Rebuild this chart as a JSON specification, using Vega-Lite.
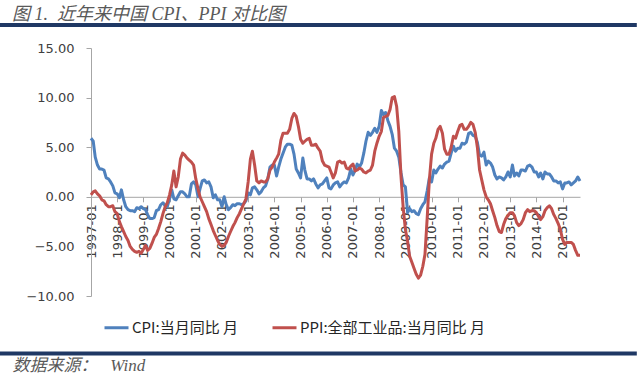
{
  "$schema": "https://vega.github.io/schema/vega-lite/v6.json",
  "autosize": "none",
  "width": 489,
  "height": 248,
  "padding": {"left": 91, "top": 48, "right": 60, "bottom": 79},
  "background": "#ffffff",
  "config": {"view": {"stroke": null}},
  "title": {
    "text": "图 1.\u00a0\u00a0近年来中国 CPI、PPI 对比图",
    "anchor": "start",
    "frame": "group",
    "dx": -79,
    "offset": 22,
    "dy": 23,
    "font": "Liberation Serif, Noto Sans CJK SC",
    "fontStyle": "italic",
    "fontWeight": "normal",
    "fontSize": 18,
    "color": "#595959"
  },
  "data": {
    "values": [
      {"date":"1997-01","cpi":5.9,"ppi":0.2},{"date":"1997-02","cpi":5.6,"ppi":0.5},{"date":"1997-03","cpi":4.0,"ppi":0.6},{"date":"1997-04","cpi":3.2,"ppi":0.3},{"date":"1997-05","cpi":2.8,"ppi":0.1},{"date":"1997-06","cpi":2.8,"ppi":-0.3},{"date":"1997-07","cpi":2.7,"ppi":-0.4},{"date":"1997-08","cpi":1.9,"ppi":-0.8},{"date":"1997-09","cpi":1.8,"ppi":-1.0},{"date":"1997-10","cpi":1.5,"ppi":-1.0},{"date":"1997-11","cpi":1.1,"ppi":-0.9},{"date":"1997-12","cpi":0.4,"ppi":-1.5},
      {"date":"1998-01","cpi":0.3,"ppi":-1.7},{"date":"1998-02","cpi":-0.1,"ppi":-2.5},{"date":"1998-03","cpi":0.7,"ppi":-3.0},{"date":"1998-04","cpi":-0.3,"ppi":-3.5},{"date":"1998-05","cpi":-1.0,"ppi":-4.0},{"date":"1998-06","cpi":-1.3,"ppi":-4.4},{"date":"1998-07","cpi":-1.4,"ppi":-5.0},{"date":"1998-08","cpi":-1.4,"ppi":-5.3},{"date":"1998-09","cpi":-1.5,"ppi":-5.5},{"date":"1998-10","cpi":-1.1,"ppi":-5.6},{"date":"1998-11","cpi":-1.2,"ppi":-5.5},{"date":"1998-12","cpi":-1.0,"ppi":-5.7},
      {"date":"1999-01","cpi":-1.2,"ppi":-5.3},{"date":"1999-02","cpi":-1.3,"ppi":-4.9},{"date":"1999-03","cpi":-1.8,"ppi":-5.4},{"date":"1999-04","cpi":-2.2,"ppi":-5.2},{"date":"1999-05","cpi":-2.2,"ppi":-4.7},{"date":"1999-06","cpi":-2.1,"ppi":-4.1},{"date":"1999-07","cpi":-1.4,"ppi":-3.8},{"date":"1999-08","cpi":-1.3,"ppi":-3.2},{"date":"1999-09","cpi":-0.8,"ppi":-2.5},{"date":"1999-10","cpi":-0.6,"ppi":-1.7},{"date":"1999-11","cpi":-0.9,"ppi":-1.0},{"date":"1999-12","cpi":-1.0,"ppi":-0.6},
      {"date":"2000-01","cpi":-0.2,"ppi":0.2},{"date":"2000-02","cpi":0.7,"ppi":1.2},{"date":"2000-03","cpi":-0.2,"ppi":2.6},{"date":"2000-04","cpi":-0.3,"ppi":1.0},{"date":"2000-05","cpi":0.1,"ppi":2.0},{"date":"2000-06","cpi":0.5,"ppi":3.8},{"date":"2000-07","cpi":0.5,"ppi":4.4},{"date":"2000-08","cpi":0.3,"ppi":4.2},{"date":"2000-09","cpi":0.0,"ppi":3.9},{"date":"2000-10","cpi":0.0,"ppi":3.7},{"date":"2000-11","cpi":1.3,"ppi":3.5},{"date":"2000-12","cpi":1.5,"ppi":3.2},
      {"date":"2001-01","cpi":1.2,"ppi":1.8},{"date":"2001-02","cpi":0.0,"ppi":0.8},{"date":"2001-03","cpi":0.8,"ppi":0.0},{"date":"2001-04","cpi":1.6,"ppi":-0.5},{"date":"2001-05","cpi":1.7,"ppi":-1.0},{"date":"2001-06","cpi":1.4,"ppi":-1.5},{"date":"2001-07","cpi":1.5,"ppi":-2.2},{"date":"2001-08","cpi":1.0,"ppi":-2.8},{"date":"2001-09","cpi":-0.1,"ppi":-3.4},{"date":"2001-10","cpi":0.2,"ppi":-3.9},{"date":"2001-11","cpi":-0.3,"ppi":-4.4},{"date":"2001-12","cpi":-0.3,"ppi":-4.8},
      {"date":"2002-01","cpi":-1.0,"ppi":-5.0},{"date":"2002-02","cpi":0.0,"ppi":-4.9},{"date":"2002-03","cpi":-0.8,"ppi":-4.6},{"date":"2002-04","cpi":-1.3,"ppi":-4.0},{"date":"2002-05","cpi":-1.1,"ppi":-3.5},{"date":"2002-06","cpi":-0.8,"ppi":-3.0},{"date":"2002-07","cpi":-0.9,"ppi":-2.6},{"date":"2002-08","cpi":-0.7,"ppi":-2.1},{"date":"2002-09","cpi":-0.7,"ppi":-1.7},{"date":"2002-10","cpi":-0.8,"ppi":-1.2},{"date":"2002-11","cpi":-0.7,"ppi":-0.7},{"date":"2002-12","cpi":-0.4,"ppi":-0.2},
      {"date":"2003-01","cpi":0.4,"ppi":1.5},{"date":"2003-02","cpi":0.2,"ppi":3.8},{"date":"2003-03","cpi":0.9,"ppi":4.6},{"date":"2003-04","cpi":1.0,"ppi":3.2},{"date":"2003-05","cpi":0.7,"ppi":1.6},{"date":"2003-06","cpi":0.3,"ppi":1.4},{"date":"2003-07","cpi":0.5,"ppi":1.6},{"date":"2003-08","cpi":0.9,"ppi":1.5},{"date":"2003-09","cpi":1.1,"ppi":1.5},{"date":"2003-10","cpi":1.8,"ppi":1.8},{"date":"2003-11","cpi":3.0,"ppi":2.7},{"date":"2003-12","cpi":3.2,"ppi":3.0},
      {"date":"2004-01","cpi":3.2,"ppi":3.5},{"date":"2004-02","cpi":2.1,"ppi":3.9},{"date":"2004-03","cpi":3.0,"ppi":4.3},{"date":"2004-04","cpi":3.8,"ppi":5.7},{"date":"2004-05","cpi":4.4,"ppi":6.4},{"date":"2004-06","cpi":5.0,"ppi":6.4},{"date":"2004-07","cpi":5.3,"ppi":6.4},{"date":"2004-08","cpi":5.3,"ppi":6.8},{"date":"2004-09","cpi":5.2,"ppi":7.9},{"date":"2004-10","cpi":4.3,"ppi":8.4},{"date":"2004-11","cpi":2.8,"ppi":8.1},{"date":"2004-12","cpi":2.4,"ppi":7.1},
      {"date":"2005-01","cpi":1.9,"ppi":5.8},{"date":"2005-02","cpi":3.9,"ppi":5.4},{"date":"2005-03","cpi":2.7,"ppi":5.6},{"date":"2005-04","cpi":1.8,"ppi":5.8},{"date":"2005-05","cpi":1.8,"ppi":5.9},{"date":"2005-06","cpi":1.6,"ppi":5.2},{"date":"2005-07","cpi":1.8,"ppi":5.2},{"date":"2005-08","cpi":1.3,"ppi":5.3},{"date":"2005-09","cpi":0.9,"ppi":4.9},{"date":"2005-10","cpi":1.2,"ppi":4.6},{"date":"2005-11","cpi":1.3,"ppi":3.6},{"date":"2005-12","cpi":1.6,"ppi":3.2},
      {"date":"2006-01","cpi":1.9,"ppi":3.1},{"date":"2006-02","cpi":0.9,"ppi":3.0},{"date":"2006-03","cpi":0.8,"ppi":2.5},{"date":"2006-04","cpi":1.2,"ppi":1.9},{"date":"2006-05","cpi":1.4,"ppi":2.4},{"date":"2006-06","cpi":1.5,"ppi":3.5},{"date":"2006-07","cpi":1.0,"ppi":3.6},{"date":"2006-08","cpi":1.3,"ppi":3.4},{"date":"2006-09","cpi":1.5,"ppi":3.5},{"date":"2006-10","cpi":1.4,"ppi":2.9},{"date":"2006-11","cpi":1.9,"ppi":2.8},{"date":"2006-12","cpi":2.8,"ppi":3.1},
      {"date":"2007-01","cpi":2.2,"ppi":3.3},{"date":"2007-02","cpi":2.7,"ppi":2.6},{"date":"2007-03","cpi":3.3,"ppi":2.7},{"date":"2007-04","cpi":3.0,"ppi":2.9},{"date":"2007-05","cpi":3.4,"ppi":2.8},{"date":"2007-06","cpi":4.4,"ppi":2.5},{"date":"2007-07","cpi":5.6,"ppi":2.4},{"date":"2007-08","cpi":6.5,"ppi":2.6},{"date":"2007-09","cpi":6.2,"ppi":2.7},{"date":"2007-10","cpi":6.5,"ppi":3.2},{"date":"2007-11","cpi":6.9,"ppi":4.6},{"date":"2007-12","cpi":6.5,"ppi":5.4},
      {"date":"2008-01","cpi":7.1,"ppi":6.1},{"date":"2008-02","cpi":8.7,"ppi":6.6},{"date":"2008-03","cpi":8.3,"ppi":8.0},{"date":"2008-04","cpi":8.5,"ppi":8.1},{"date":"2008-05","cpi":7.7,"ppi":8.2},{"date":"2008-06","cpi":7.1,"ppi":8.8},{"date":"2008-07","cpi":6.3,"ppi":10.0},{"date":"2008-08","cpi":4.9,"ppi":10.1},{"date":"2008-09","cpi":4.6,"ppi":9.1},{"date":"2008-10","cpi":4.0,"ppi":6.6},{"date":"2008-11","cpi":2.4,"ppi":2.0},{"date":"2008-12","cpi":1.2,"ppi":-1.1},
      {"date":"2009-01","cpi":1.0,"ppi":-3.3},{"date":"2009-02","cpi":-1.6,"ppi":-4.5},{"date":"2009-03","cpi":-1.2,"ppi":-6.0},{"date":"2009-04","cpi":-1.5,"ppi":-6.6},{"date":"2009-05","cpi":-1.4,"ppi":-7.2},{"date":"2009-06","cpi":-1.7,"ppi":-7.8},{"date":"2009-07","cpi":-1.8,"ppi":-8.2},{"date":"2009-08","cpi":-1.2,"ppi":-7.9},{"date":"2009-09","cpi":-0.8,"ppi":-7.0},{"date":"2009-10","cpi":-0.5,"ppi":-5.8},{"date":"2009-11","cpi":0.6,"ppi":-2.1},{"date":"2009-12","cpi":1.9,"ppi":1.7},
      {"date":"2010-01","cpi":1.5,"ppi":4.3},{"date":"2010-02","cpi":2.7,"ppi":5.4},{"date":"2010-03","cpi":2.4,"ppi":5.9},{"date":"2010-04","cpi":2.8,"ppi":6.8},{"date":"2010-05","cpi":3.1,"ppi":7.1},{"date":"2010-06","cpi":2.9,"ppi":6.4},{"date":"2010-07","cpi":3.3,"ppi":4.8},{"date":"2010-08","cpi":3.5,"ppi":4.3},{"date":"2010-09","cpi":3.6,"ppi":4.3},{"date":"2010-10","cpi":4.4,"ppi":5.0},{"date":"2010-11","cpi":5.1,"ppi":6.1},{"date":"2010-12","cpi":4.6,"ppi":5.9},
      {"date":"2011-01","cpi":4.9,"ppi":6.6},{"date":"2011-02","cpi":4.9,"ppi":7.2},{"date":"2011-03","cpi":5.4,"ppi":7.3},{"date":"2011-04","cpi":5.3,"ppi":6.8},{"date":"2011-05","cpi":5.5,"ppi":6.8},{"date":"2011-06","cpi":6.4,"ppi":7.1},{"date":"2011-07","cpi":6.5,"ppi":7.5},{"date":"2011-08","cpi":6.2,"ppi":7.3},{"date":"2011-09","cpi":6.1,"ppi":6.5},{"date":"2011-10","cpi":5.5,"ppi":5.0},{"date":"2011-11","cpi":4.2,"ppi":2.7},{"date":"2011-12","cpi":4.1,"ppi":1.7},
      {"date":"2012-01","cpi":4.5,"ppi":0.7},{"date":"2012-02","cpi":3.2,"ppi":0.0},{"date":"2012-03","cpi":3.6,"ppi":-0.3},{"date":"2012-04","cpi":3.4,"ppi":-0.7},{"date":"2012-05","cpi":3.0,"ppi":-1.4},{"date":"2012-06","cpi":2.2,"ppi":-2.1},{"date":"2012-07","cpi":1.8,"ppi":-2.9},{"date":"2012-08","cpi":2.0,"ppi":-3.5},{"date":"2012-09","cpi":1.9,"ppi":-3.6},{"date":"2012-10","cpi":1.7,"ppi":-2.8},{"date":"2012-11","cpi":2.0,"ppi":-2.2},{"date":"2012-12","cpi":2.5,"ppi":-1.9},
      {"date":"2013-01","cpi":2.0,"ppi":-1.6},{"date":"2013-02","cpi":3.2,"ppi":-1.6},{"date":"2013-03","cpi":2.1,"ppi":-1.9},{"date":"2013-04","cpi":2.4,"ppi":-2.6},{"date":"2013-05","cpi":2.1,"ppi":-2.9},{"date":"2013-06","cpi":2.7,"ppi":-2.7},{"date":"2013-07","cpi":2.7,"ppi":-2.3},{"date":"2013-08","cpi":2.6,"ppi":-1.6},{"date":"2013-09","cpi":3.1,"ppi":-1.3},{"date":"2013-10","cpi":3.2,"ppi":-1.5},{"date":"2013-11","cpi":3.0,"ppi":-1.4},{"date":"2013-12","cpi":2.5,"ppi":-1.4},
      {"date":"2014-01","cpi":2.5,"ppi":-1.6},{"date":"2014-02","cpi":2.0,"ppi":-2.0},{"date":"2014-03","cpi":2.4,"ppi":-2.3},{"date":"2014-04","cpi":1.8,"ppi":-2.0},{"date":"2014-05","cpi":2.5,"ppi":-1.4},{"date":"2014-06","cpi":2.3,"ppi":-1.1},{"date":"2014-07","cpi":2.3,"ppi":-0.9},{"date":"2014-08","cpi":2.0,"ppi":-1.2},{"date":"2014-09","cpi":1.6,"ppi":-1.8},{"date":"2014-10","cpi":1.6,"ppi":-2.2},{"date":"2014-11","cpi":1.4,"ppi":-2.7},{"date":"2014-12","cpi":1.5,"ppi":-3.3},
      {"date":"2015-01","cpi":0.8,"ppi":-4.3},{"date":"2015-02","cpi":1.4,"ppi":-4.8},{"date":"2015-03","cpi":1.4,"ppi":-4.6},{"date":"2015-04","cpi":1.5,"ppi":-4.6},{"date":"2015-05","cpi":1.2,"ppi":-4.6},{"date":"2015-06","cpi":1.4,"ppi":-4.8},{"date":"2015-07","cpi":1.6,"ppi":-5.4},{"date":"2015-08","cpi":2.0,"ppi":-5.9},{"date":"2015-09","cpi":1.6,"ppi":-5.9}
    ],
    "format": {"parse": {"date": "utc:'%Y-%m'"}}
  },
  "layer": [
    {
      "mark": {"type": "line", "strokeWidth": 3, "strokeJoin": "round"},
      "encoding": {
        "x": {
          "field": "date", "type": "temporal",
          "scale": {"type": "utc", "domain": [{"year": 1997, "month": 1, "date": 1, "utc": true}, {"year": 2015, "month": 9, "date": 1, "utc": true}], "nice": false},
          "axis": {
            "offset": -99.2,
            "format": "%Y-%m",
            "tickCount": {"interval": "year", "step": 1},
            "labelAngle": 270,
            "labelAlign": "right",
            "labelBaseline": "middle",
            "labelPadding": 2,
            "labelFont": "DejaVu Sans",
            "labelFontSize": 13,
            "labelColor": "#404040",
            "labelFlush": false,
            "labelOverlap": false,
            "domainColor": "#A6A6A6",
            "tickColor": "#A6A6A6",
            "tickSize": 5,
            "grid": false,
            "title": "数据来源：\u00a0\u00a0\u00a0Wind",
            "titleX": -79,
            "titleY": 174,
            "titleAlign": "left",
            "titleBaseline": "alphabetic",
            "titleAngle": 0,
            "titleFont": "Liberation Serif, Noto Sans CJK SC",
            "titleFontStyle": "italic",
            "titleFontWeight": "normal",
            "titleFontSize": 17,
            "titleColor": "#595959"
          }
        },
        "y": {
          "field": "cpi", "type": "quantitative",
          "scale": {"domain": [-10, 15], "nice": false, "zero": false},
          "axis": {
            "values": [-10, -5, 0, 5, 10, 15],
            "format": ".2f",
            "labelFont": "DejaVu Sans",
            "labelFontSize": 13,
            "labelColor": "#404040",
            "labelPadding": 12,
            "domainColor": "#A6A6A6",
            "tickColor": "#A6A6A6",
            "tickSize": 5,
            "grid": false,
            "title": null
          }
        },
        "color": {
          "datum": "CPI:当月同比 月",
          "type": "nominal",
          "scale": {"domain": ["CPI:当月同比 月", "PPI:全部工业品:当月同比 月"], "range": ["#4F81BD", "#C0504D"]},
          "legend": {
            "orient": "none",
            "legendX": 12,
            "legendY": 266,
            "direction": "horizontal",
            "title": null,
            "padding": 0,
            "symbolType": "stroke",
            "symbolStrokeWidth": 3,
            "symbolSize": 576,
            "labelFont": "Noto Sans CJK SC",
            "labelFontSize": 15,
            "labelColor": "#262626",
            "labelOffset": 2,
            "labelLimit": 400,
            "columnPadding": 28
          }
        }
      }
    },
    {
      "mark": {"type": "line", "strokeWidth": 3, "strokeJoin": "round"},
      "encoding": {
        "x": {"field": "date", "type": "temporal"},
        "y": {"field": "ppi", "type": "quantitative"},
        "color": {"datum": "PPI:全部工业品:当月同比 月", "type": "nominal"}
      }
    },
    {
      "data": {"values": [{}]},
      "mark": {"type": "rule", "strokeWidth": 4, "color": "#1F3864", "clip": false},
      "encoding": {
        "x": {"datum": {"year": 1993, "month": 7, "date": 1, "utc": true}, "type": "temporal"},
        "x2": {"datum": {"year": 2017, "month": 11, "date": 1, "utc": true}},
        "y": {"datum": 17.32, "type": "quantitative"}
      }
    },
    {
      "data": {"values": [{}]},
      "mark": {"type": "rule", "strokeWidth": 4, "color": "#1F3864", "clip": false},
      "encoding": {
        "x": {"datum": {"year": 1993, "month": 7, "date": 1, "utc": true}, "type": "temporal"},
        "x2": {"datum": {"year": 2017, "month": 11, "date": 1, "utc": true}},
        "y": {"datum": -15.8, "type": "quantitative"}
      }
    }
  ]
}
